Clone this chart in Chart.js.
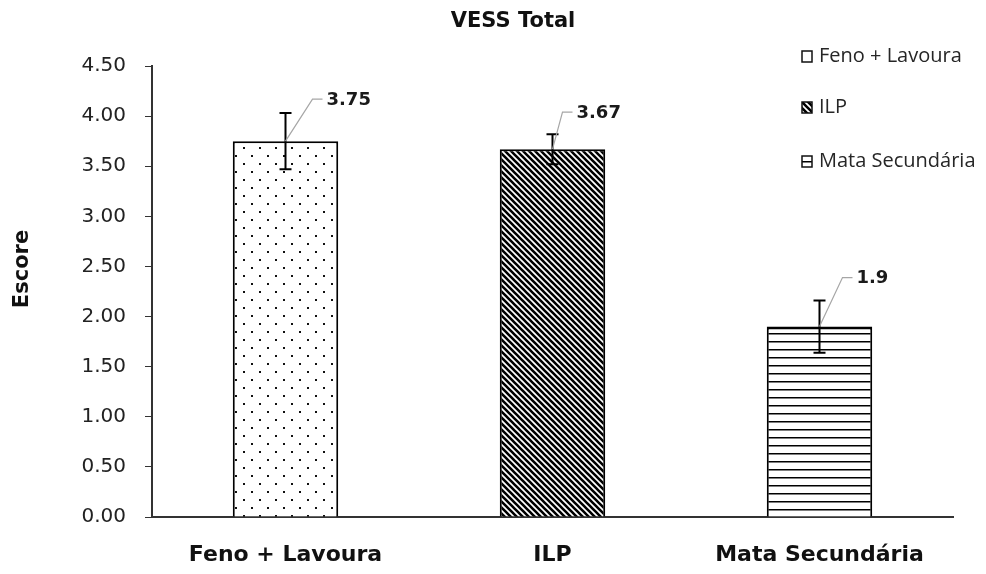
<!DOCTYPE html>
<html>
<head>
<meta charset="utf-8">
<script src="https://cdn.jsdelivr.net/npm/chart.js@4.4.1/dist/chart.umd.min.js"></script>
<style>
    html, body { margin: 0; padding: 0; background: #ffffff; }
    #wrap { width: 986px; height: 574px; }
</style>
</head>
<body>
<div id="wrap"><canvas id="vessChart" width="986" height="574"></canvas></div>
<script>

// CHART DATA
const categories = ["Feno + Lavoura", "ILP", "Mata Secundária"];
const scores = [3.75, 3.67, 1.9];
const scoreErrors = [0.28, 0.15, 0.26];
const yTickStep = 0.5;
const yMax = 4.5;
const chartTitle = "VESS Total";
const yTitle = "Escore";


//====================== FILL PATTERNS ========================

// Small dotted pattern (Feno + Lavoura)
function DotPattern(ctx) {
    const c = document.createElement("canvas");
    c.width = 16; c.height = 16;
    const p = c.getContext("2d");
    p.fillStyle = "#ffffff";
    p.fillRect(0, 0, 16, 16);
    p.fillStyle = "#111111";
    p.fillRect(3, 3, 2, 2);
    p.fillRect(11, 11, 2, 2);
    return ctx.createPattern(c, "repeat");
}

// Diagonal hatch, top-left to bottom-right (ILP)
function HatchPattern(ctx) {
    const c = document.createElement("canvas");
    c.width = 6; c.height = 6;
    const p = c.getContext("2d");
    p.fillStyle = "#ffffff";
    p.fillRect(0, 0, 6, 6);
    p.strokeStyle = "#000000";
    p.lineWidth = 2.6;
    p.beginPath();
    p.moveTo(-1, -1); p.lineTo(7, 7);
    p.moveTo(-4, 2); p.lineTo(4, 10);
    p.moveTo(2, -4); p.lineTo(10, 4);
    p.stroke();
    return ctx.createPattern(c, "repeat");
}

// Horizontal lines (Mata Secundária)
function LinePattern(ctx) {
    const c = document.createElement("canvas");
    c.width = 8; c.height = 8;
    const p = c.getContext("2d");
    p.fillStyle = "#ffffff";
    p.fillRect(0, 0, 8, 8);
    p.fillStyle = "#000000";
    p.fillRect(0, 5, 8, 1.5);
    return ctx.createPattern(c, "repeat");
}

const chartCtx = document.getElementById("vessChart").getContext("2d");
const barFills = [DotPattern(chartCtx), HatchPattern(chartCtx), LinePattern(chartCtx)];


//====================== PLUGINS ========================

// Error bars, drawn through the scales
const errorBarPlugin = {
    id: "errorBars",
    afterDatasetsDraw(chart) {
        const meta = chart.getDatasetMeta(0);
        const yScale = chart.scales.y;
        const ctx = chart.ctx;
        ctx.save();
        ctx.strokeStyle = "#000000";
        ctx.lineWidth = 2;
        meta.data.forEach((bar, i) => {
            const x = bar.x;
            const top = yScale.getPixelForValue(scores[i] + scoreErrors[i]);
            const bottom = yScale.getPixelForValue(scores[i] - scoreErrors[i]);
            ctx.beginPath();
            ctx.moveTo(x, top); ctx.lineTo(x, bottom);
            ctx.moveTo(x - 6, top); ctx.lineTo(x + 6, top);
            ctx.moveTo(x - 6, bottom); ctx.lineTo(x + 6, bottom);
            ctx.stroke();
        });
        ctx.restore();
    }
};

// Value labels with gray leader lines
const leaderLabelPlugin = {
    id: "leaderLabels",
    afterDatasetsDraw(chart, args, opts) {
        const meta = chart.getDatasetMeta(0);
        const ctx = chart.ctx;
        ctx.save();
        meta.data.forEach((bar, i) => {
            const off = opts.offsets[i];
            const x0 = bar.x, y0 = bar.y;
            const x1 = x0 + off[0], y1 = y0 + off[1];
            ctx.strokeStyle = "#a6a6a6";
            ctx.lineWidth = 1.2;
            ctx.beginPath();
            ctx.moveTo(x0, y0);
            ctx.lineTo(x1, y1);
            ctx.lineTo(x1 + 10, y1);
            ctx.stroke();
            ctx.fillStyle = "#1a1a1a";
            ctx.font = "bold 18px 'DejaVu Sans'";
            ctx.textAlign = "left";
            ctx.textBaseline = "middle";
            ctx.fillText(String(scores[i]), x1 + 14, y1 + 1);
        });
        ctx.restore();
    }
};

// Legend in the top right corner
const cornerLegendPlugin = {
    id: "cornerLegend",
    afterDraw(chart, args, opts) {
        const ctx = chart.ctx;
        categories.forEach((name, i) => {
            const y = opts.rows[i];
            ctx.save();
            // align the pattern with the little box
            ctx.translate(opts.x, y - 5);
            ctx.fillStyle = i === 0 ? "#ffffff" : barFills[i];
            ctx.fillRect(0, 0, 10, 11);
            ctx.strokeStyle = "#111111";
            ctx.lineWidth = 1.5;
            ctx.strokeRect(0, 0, 10, 11);
            ctx.restore();

            ctx.save();
            ctx.fillStyle = "#262626";
            ctx.font = "20px 'Open Sans'";
            ctx.textAlign = "left";
            ctx.textBaseline = "middle";
            ctx.fillText(name, opts.x + 17, y);
            ctx.restore();
        });
    }
};

// Chart title and y axis title, placed as in the original figure
const titlesPlugin = {
    id: "titles",
    afterDraw(chart, args, opts) {
        const ctx = chart.ctx;
        ctx.save();
        ctx.fillStyle = "#111111";
        ctx.textAlign = "center";
        ctx.textBaseline = "middle";
        ctx.font = "bold 21px 'DejaVu Sans'";
        ctx.fillText(chartTitle, opts.titleX, opts.titleY);
        ctx.translate(opts.axisX, opts.axisY);
        ctx.rotate(-Math.PI / 2);
        ctx.font = "bold 21px 'DejaVu Sans'";
        ctx.fillText(yTitle, 0, 0);
        ctx.restore();
    }
};


//====================== BAR CHART ========================

var vessChart = new Chart(chartCtx, {
    type: "bar",
    data: {
        labels: categories,
        datasets: [{
            label: chartTitle,
            data: scores,
            backgroundColor: barFills,
            borderColor: "#000000",
            borderWidth: [2, 2, {top: 3, left: 2, right: 2, bottom: 0}],
            borderSkipped: "bottom",
            categoryPercentage: 1.0,
            barPercentage: 0.395
        }]
    },
    plugins: [errorBarPlugin, leaderLabelPlugin, cornerLegendPlugin, titlesPlugin],
    options: {
        responsive: false,
        animation: false,
        layout: {
            padding: { left: 0, right: 33, top: 66, bottom: 0 }
        },
        scales: {
            x: {
                grid: { display: false },
                border: { display: true, color: "#333333", width: 2 },
                ticks: {
                    color: "#111111",
                    padding: 17,
                    font: { family: "'DejaVu Sans'", size: 22, weight: "bold" }
                },
                afterFit(scale) { scale.height = 57; }
            },
            y: {
                min: 0,
                max: yMax,
                grid: {
                    drawOnChartArea: false,
                    drawTicks: true,
                    tickLength: 7,
                    color: "#333333"
                },
                border: { display: true, color: "#333333", width: 2 },
                ticks: {
                    stepSize: yTickStep,
                    color: "#222222",
                    padding: 19,
                    font: { family: "'DejaVu Sans'", size: 20 },
                    callback: (v) => Number(v).toFixed(2)
                },
                afterFit(scale) { scale.width = 152; }
            }
        },
        plugins: {
            legend: { display: false },
            tooltip: { enabled: false },
            title: { display: false },
            titles: {
                titleX: 513,
                titleY: 22,
                axisX: 23,
                axisY: 269
            },
            leaderLabels: {
                offsets: [[27, -42], [10, -37], [23, -49]]
            },
            cornerLegend: {
                x: 802,
                rows: [56, 107, 161]
            }
        }
    }
});
</script>
</body>
</html>
